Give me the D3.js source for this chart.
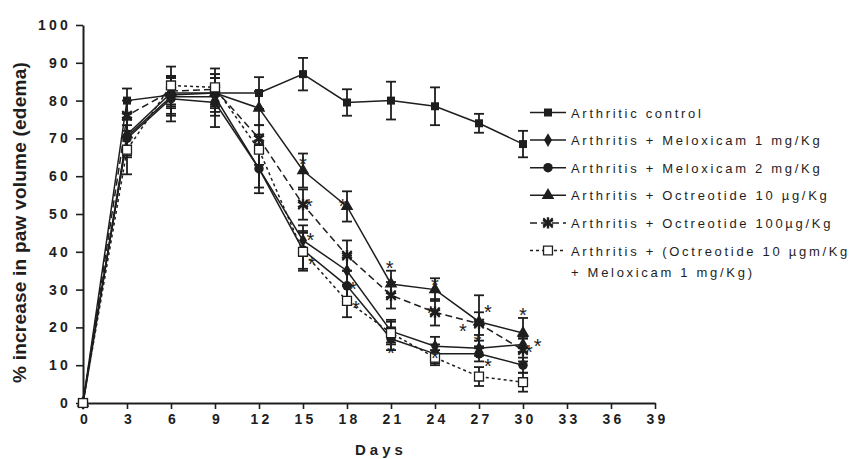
<!DOCTYPE html>
<html>
<head>
<meta charset="utf-8">
<script src="https://cdn.jsdelivr.net/npm/d3@7"></script>
<style>
  body { margin: 0; background: #fff; }
  svg { font-family: "Liberation Sans", Arial, sans-serif; }
</style>
</head>
<body>
<div id="chart"></div>
<script>
var days = [0, 3, 6, 9, 12, 15, 18, 21, 24, 27, 30];
var xTicks = [0, 3, 6, 9, 12, 15, 18, 21, 24, 27, 30, 33, 36, 39];
var yTicks = [0, 10, 20, 30, 40, 50, 60, 70, 80, 90, 100];

var names = [
  "Arthritic control",
  "Arthritis + Meloxicam 1 mg/Kg",
  "Arthritis + Meloxicam 2 mg/Kg",
  "Arthritis + Octreotide 10 \u00b5g/Kg",
  "Arthritis + Octreotide 100\u00b5g/Kg",
  "Arthritis + (Octreotide 10 \u00b5gm/Kg|+ Meloxicam 1 mg/Kg)"
];

var control   = [0, 80, 81.5, 82, 82, 87, 79.5, 80, 78.5, 74, 68.5];
var melox1    = [0, 70.5, 81, 81, 62, 43, 35, 19, 15, 14.5, 15.5];
var melox2    = [0, 70, 80.5, 79.5, 62, 40.5, 31, 17, 13, 13, 10];
var octreo10  = [0, 71, 82, 82, 78, 61.5, 52, 31.5, 30, 21.5, 18.5];
var octreo100 = [0, 76, 82.5, 83, 70, 52.5, 39, 28.5, 24, 21, 14];
var combo     = [0, 67, 84, 83.5, 67, 40, 27, 18.5, 12, 7, 5.5];

var controlErr   = [0, 3.2, 5, 5, 4.2, 4.3, 3.5, 5, 5, 2.5, 3.5];
var melox1Err    = [0, 5, 5, 5, 5, 4, 4, 3, 2.5, 2, 2];
var melox2Err    = [0, 5, 6, 6.5, 6.5, 5, 4, 3, 2.5, 2, 2];
var octreo10Err  = [0, 4, 4, 4, 4.5, 4.5, 4, 3.5, 3, 7, 4];
var octreo100Err = [0, 4, 4, 4, 3.5, 4, 4, 3.5, 3.5, 3, 3];
var comboErr     = [0, 6.5, 5, 5, 4, 5, 4.3, 3, 2, 2.5, 2.5];

// significance marks: [day, value]
var marks = [
  [15, 64], [15.4, 53], [15.5, 44], [15.6, 37.5],
  [17.7, 53], [18.4, 31], [18.6, 26],
  [20.9, 36.5], [21, 14],
  [24, 32], [23.7, 24.6], [24, 12.7],
  [25.9, 19.8], [26.9, 17], [27.6, 25], [27.6, 10.6],
  [30, 24], [31, 15.9], [30.4, 14.3]
];

var series = [
  {name: names[0], v: control,   e: controlErr,   sym: "square",   dash: null},
  {name: names[1], v: melox1,    e: melox1Err,    sym: "diamond",  dash: null},
  {name: names[2], v: melox2,    e: melox2Err,    sym: "circle",   dash: null},
  {name: names[3], v: octreo10,  e: octreo10Err,  sym: "triangle", dash: null},
  {name: names[4], v: octreo100, e: octreo100Err, sym: "star",     dash: "7,4"},
  {name: names[5], v: combo,     e: comboErr,     sym: "open",     dash: "3,3"}
];

var W = 854, H = 459;
var ink = "#1e1e1e";
var svg = d3.select("#chart").append("svg").attr("width", W).attr("height", H);

var x = d3.scaleLinear().domain([0, 39]).range([83, 655]);
var y = d3.scaleLinear().domain([0, 100]).range([403, 25]);

// axes
var xAxis = svg.append("g").attr("transform", "translate(0," + y(0) + ")")
  .call(d3.axisBottom(x).tickValues(xTicks).tickSize(6).tickPadding(5).tickSizeOuter(0));
var yAxis = svg.append("g").attr("transform", "translate(" + x(0) + ",0)")
  .call(d3.axisLeft(y).tickValues(yTicks).tickSize(7).tickPadding(5).tickSizeOuter(0));
[xAxis, yAxis].forEach(function(a){
  a.select(".domain").attr("stroke", ink).attr("stroke-width", 2);
  a.selectAll(".tick line").attr("stroke", ink).attr("stroke-width", 1.6);
  a.selectAll(".tick text").attr("fill", ink)
    .style("font-size", "14px").style("font-weight", "bold").style("letter-spacing", "3.2px");
});
xAxis.selectAll(".tick text").attr("dx", "2px");

svg.append("text").attr("x", 355).attr("y", 455)
  .attr("fill", ink).style("font-size", "15px").style("font-weight", "bold")
  .style("letter-spacing", "4px").text("Days");

// y title, fitted between y=383 (bottom) and y=62 (top)
var yTitle = svg.append("text").attr("fill", ink)
  .style("font-size", "19px").style("font-weight", "bold")
  .text("% increase in paw volume (edema)");
var natural = yTitle.node().getComputedTextLength();
yTitle.style("letter-spacing", ((321 - natural) / yTitle.text().length) + "px");
yTitle.attr("transform", "translate(26,383) rotate(-90)");

function symbolPath(sym, size) {
  var t = {square: d3.symbolSquare, diamond: d3.symbolDiamond, circle: d3.symbolCircle,
           triangle: d3.symbolTriangle, star: d3.symbolAsterisk, open: d3.symbolSquare}[sym];
  return d3.symbol().type(t).size(size)();
}
var symSize = {square: 64, diamond: 55, circle: 70, triangle: 70, star: 90, open: 80};

function drawMarker(g, sym) {
  var p = g.append("path").attr("d", symbolPath(sym, symSize[sym]));
  if (sym === "open") p.attr("fill", "#fff").attr("stroke", ink).attr("stroke-width", 1.3);
  else if (sym === "star") {
    p.attr("fill", "none").attr("stroke", ink).attr("stroke-width", 2.4);
    g.append("path").attr("d", d3.symbol().type(d3.symbolX).size(60)()).attr("fill", "none")
      .attr("stroke", ink).attr("stroke-width", 2);
  }
  else p.attr("fill", ink);
}

var line = d3.line().x(function(d){ return x(d[0]); }).y(function(d){ return y(d[1]); });

// error bars
series.forEach(function(s){
  var g = svg.append("g");
  days.forEach(function(d, i){
    if (!s.e[i]) return;
    var cx = x(d), y1 = y(s.v[i] + s.e[i]), y2 = y(s.v[i] - s.e[i]);
    g.append("line").attr("x1", cx).attr("x2", cx).attr("y1", y1).attr("y2", y2)
      .attr("stroke", ink).attr("stroke-width", 1.8);
    [y1, y2].forEach(function(yy){
      g.append("line").attr("x1", cx - 5).attr("x2", cx + 5).attr("y1", yy).attr("y2", yy)
        .attr("stroke", ink).attr("stroke-width", 1.8);
    });
  });
});

// lines
series.forEach(function(s){
  svg.append("path").datum(days.map(function(d, i){ return [d, s.v[i]]; }))
    .attr("d", line).attr("fill", "none").attr("stroke", ink).attr("stroke-width", 1.5)
    .attr("stroke-dasharray", s.dash);
});

// markers
series.forEach(function(s){
  days.forEach(function(d, i){
    var g = svg.append("g").attr("transform", "translate(" + x(d) + "," + y(s.v[i]) + ")");
    drawMarker(g, s.sym);
  });
});

// significance asterisks
svg.append("g").selectAll("text").data(marks).enter().append("text")
  .attr("x", function(d){ return x(d[0]); })
  .attr("y", function(d){ return y(d[1]) + 10; })
  .attr("text-anchor", "middle").attr("fill", ink)
  .style("font-size", "20px").text("*");

// legend
var lg = svg.append("g");
series.forEach(function(s, i){
  var cy = 112.5 + i * 27.6;
  var row = lg.append("g").attr("transform", "translate(0," + cy + ")");
  row.append("line").attr("x1", 530).attr("x2", 566).attr("y1", 0).attr("y2", 0)
    .attr("stroke", ink).attr("stroke-width", 1.5).attr("stroke-dasharray", s.dash);
  var m = row.append("g").attr("transform", "translate(548,0)");
  drawMarker(m, s.sym);
  var parts = s.name.split("|");
  parts.forEach(function(t, k){
    row.append("text").attr("x", 571).attr("y", 5 + k * 21).attr("fill", ink)
      .style("font-size", "13px").style("letter-spacing", "2.7px").text(t);
  });
});
</script>
</body>
</html>
